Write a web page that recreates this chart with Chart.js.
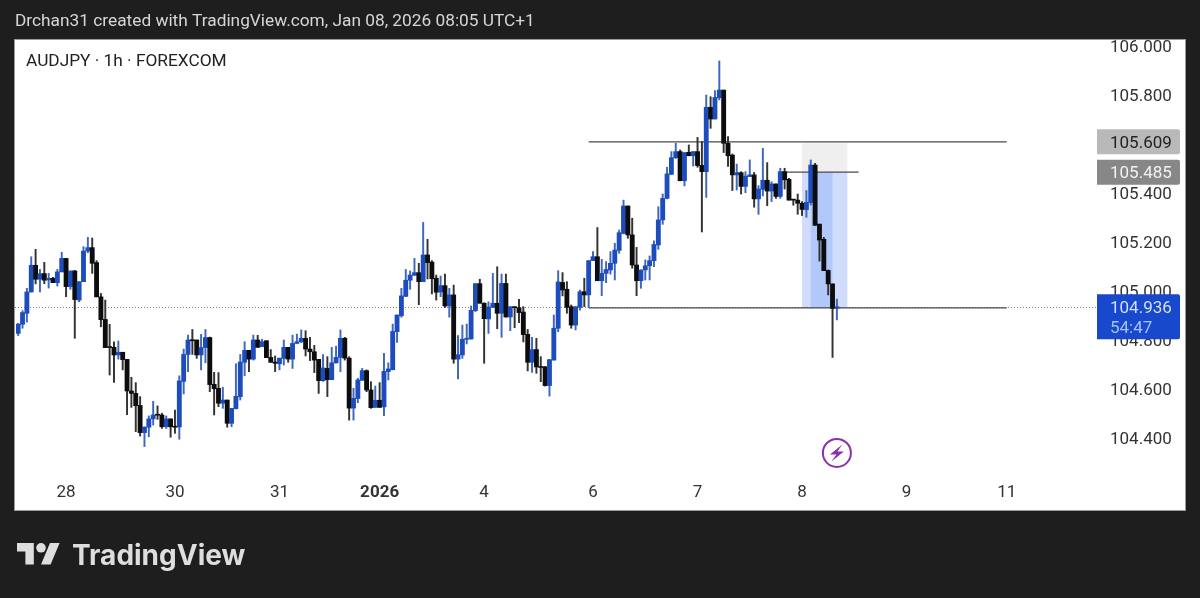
<!DOCTYPE html>
<html>
<head>
<meta charset="utf-8">
<title>AUDJPY 1h</title>
<script src="https://cdn.jsdelivr.net/npm/chart.js@4"></script>
<style>
  html, body { margin: 0; padding: 0; background: #1e1e1e; }
  canvas { display: block; }
</style>
</head>
<body>
<canvas id="graph" width="1200" height="598"></canvas>
<script>
const openPrices = [
  104.827,104.864,104.909,104.996,105.105,105.048,105.071,105.045,105.052,105.034,
  105.078,105.133,105.018,105.082,104.963,105.038,105.163,105.177,105.116,104.976,
  104.884,104.771,104.770,104.739,104.750,104.721,104.592,104.582,104.533,104.422,
  104.444,104.478,104.494,104.494,104.446,104.478,104.448,104.445,104.631,104.741,
  104.800,104.800,104.739,104.769,104.810,104.619,104.603,104.542,104.555,104.460,
  104.520,104.569,104.709,104.758,104.722,104.800,104.773,104.797,104.729,104.710,
  104.703,104.725,104.770,104.722,104.786,104.793,104.807,104.763,104.752,104.721,
  104.634,104.684,104.638,104.707,104.729,104.807,104.726,104.522,104.561,104.635,
  104.675,104.596,104.525,104.554,104.527,104.671,104.679,104.834,104.899,104.978,
  105.044,105.064,105.075,105.038,105.147,105.118,105.052,104.996,105.022,104.939,
  104.984,104.722,104.739,104.803,104.804,104.920,105.030,104.950,104.886,104.933,
  104.950,104.909,105.031,104.894,104.935,104.932,104.914,104.823,104.709,104.761,
  104.691,104.691,104.614,104.718,104.848,105.035,105.007,104.936,104.861,104.933,
  104.997,104.984,105.124,105.140,105.042,105.072,105.086,105.113,105.166,105.235,
  105.347,105.229,105.106,105.042,105.086,105.103,105.124,105.188,105.290,105.378,
  105.476,105.544,105.569,105.450,105.566,105.552,105.569,105.513,105.487,105.750,
  105.702,105.789,105.820,105.603,105.555,105.474,105.483,105.427,105.467,105.474,
  105.376,105.415,105.452,105.408,105.437,105.386,105.487,105.456,105.374,105.371,
  105.358,105.332,105.361,105.514,105.273,105.211,105.084,105.029,104.929
];
const closePrices = [
  104.865,104.912,104.996,105.105,105.048,105.071,105.044,105.052,105.034,105.078,
  105.133,105.018,105.082,104.965,105.038,105.163,105.177,105.113,104.976,104.883,
  104.769,104.769,104.739,104.750,104.720,104.592,104.582,104.532,104.422,104.444,
  104.478,104.494,104.493,104.446,104.478,104.446,104.444,104.633,104.741,104.800,
  104.797,104.739,104.769,104.810,104.618,104.601,104.542,104.555,104.460,104.521,
  104.570,104.710,104.758,104.722,104.800,104.770,104.793,104.728,104.709,104.705,
  104.726,104.770,104.722,104.786,104.793,104.807,104.763,104.752,104.718,104.634,
  104.686,104.638,104.707,104.729,104.807,104.726,104.522,104.562,104.637,104.675,
  104.596,104.524,104.554,104.525,104.672,104.682,104.835,104.902,104.980,105.044,
  105.065,105.075,105.038,105.147,105.116,105.050,104.995,105.022,104.939,104.984,
  104.722,104.740,104.803,104.807,104.921,105.030,104.950,104.887,104.935,104.950,
  104.909,105.031,104.894,104.936,104.932,104.912,104.822,104.709,104.761,104.690,
  104.688,104.614,104.720,104.848,105.037,105.004,104.933,104.861,104.936,104.997,
  104.984,105.124,105.140,105.042,105.072,105.088,105.113,105.167,105.238,105.347,
  105.229,105.106,105.042,105.086,105.103,105.124,105.190,105.290,105.378,105.478,
  105.544,105.569,105.450,105.565,105.552,105.569,105.512,105.487,105.750,105.702,
  105.790,105.820,105.603,105.552,105.474,105.483,105.427,105.469,105.474,105.376,
  105.416,105.452,105.408,105.437,105.386,105.487,105.454,105.371,105.371,105.358,
  105.333,105.362,105.514,105.268,105.208,105.083,105.029,104.929,104.936
];
const highPrices = [
  104.868,104.920,105.011,105.140,105.170,105.088,105.117,105.072,105.056,105.088,
  105.158,105.133,105.082,105.084,105.038,105.181,105.219,105.216,105.124,104.990,
  104.963,104.864,104.793,104.796,104.750,104.721,104.648,104.626,104.569,104.446,
  104.490,104.550,104.531,104.501,104.490,104.478,104.514,104.654,104.763,104.820,
  104.843,104.800,104.823,104.843,104.812,104.668,104.667,104.607,104.555,104.521,
  104.703,104.741,104.793,104.758,104.820,104.819,104.803,104.797,104.761,104.735,
  104.726,104.800,104.770,104.820,104.824,104.841,104.838,104.811,104.778,104.721,
  104.740,104.732,104.770,104.775,104.841,104.811,104.732,104.603,104.644,104.684,
  104.678,104.630,104.612,104.626,104.746,104.707,104.865,104.902,105.011,105.088,
  105.082,105.133,105.113,105.280,105.211,105.124,105.065,105.061,105.069,105.011,
  105.024,104.818,104.861,104.865,104.939,105.031,105.048,104.952,104.956,105.072,
  105.099,105.069,105.069,104.936,104.936,104.966,104.936,104.843,104.811,104.807,
  104.732,104.691,104.720,104.902,105.083,105.075,105.038,104.943,104.936,105.004,
  105.052,105.124,105.161,105.259,105.129,105.120,105.161,105.195,105.249,105.371,
  105.347,105.297,105.178,105.086,105.127,105.143,105.205,105.344,105.396,105.505,
  105.569,105.603,105.576,105.565,105.596,105.569,105.627,105.610,105.800,105.793,
  105.818,105.939,105.820,105.630,105.559,105.518,105.487,105.487,105.535,105.484,
  105.430,105.582,105.524,105.446,105.437,105.501,105.501,105.460,105.374,105.396,
  105.365,105.410,105.535,105.521,105.273,105.219,105.086,105.029,104.967
];
const lowPrices = [
  104.818,104.848,104.873,104.996,105.029,104.996,105.030,105.012,105.034,105.020,
  105.078,104.977,105.007,104.807,104.956,105.038,105.156,105.072,104.976,104.854,
  104.769,104.657,104.627,104.722,104.678,104.495,104.525,104.426,104.408,104.365,
  104.405,104.453,104.476,104.439,104.439,104.403,104.419,104.395,104.580,104.671,
  104.741,104.725,104.678,104.707,104.589,104.494,104.528,104.521,104.444,104.446,
  104.518,104.555,104.654,104.671,104.718,104.770,104.773,104.728,104.709,104.671,
  104.678,104.698,104.709,104.684,104.786,104.789,104.735,104.716,104.667,104.582,
  104.631,104.569,104.638,104.705,104.671,104.718,104.473,104.473,104.544,104.637,
  104.589,104.521,104.525,104.525,104.491,104.637,104.678,104.790,104.893,104.977,
  105.007,105.064,104.944,105.038,105.049,104.988,104.963,104.977,104.933,104.893,
  104.705,104.641,104.725,104.784,104.804,104.916,104.950,104.705,104.827,104.933,
  104.846,104.811,104.893,104.838,104.850,104.871,104.792,104.674,104.668,104.664,
  104.630,104.612,104.571,104.718,104.834,104.980,104.909,104.848,104.841,104.922,
  104.936,104.932,105.124,105.042,104.981,105.034,105.069,105.045,105.154,105.233,
  105.215,105.093,104.981,105.011,105.045,105.045,105.099,105.170,105.272,105.376,
  105.476,105.541,105.450,105.429,105.552,105.510,105.505,105.241,105.382,105.664,
  105.702,105.780,105.565,105.508,105.410,105.412,105.396,105.401,105.467,105.342,
  105.313,105.388,105.348,105.365,105.378,105.378,105.416,105.371,105.350,105.313,
  105.308,105.301,105.351,105.268,105.122,105.083,104.984,104.729,104.882
];

const dayLabels = ['28', '30', '31', '2026', '4', '6', '7', '8', '9', '11'];
const dayIndexes = [11, 36, 60, 83, 107, 132, 156, 180, 204, 227];
const slotCount = 248;
const priceTicks = [104.4, 104.6, 104.8, 105.0, 105.2, 105.4, 105.6, 105.8, 106.0];

// horizontal levels drawn on the chart
const levelPrices = [105.609, 104.931, 105.485];
const levelStarts = [131, 131, 175];
const levelEnds = [227, 227, 193];

// position tool zones, in candle slots and prices
const zoneStarts = [180, 180, 182];
const zoneEnds = [190.4, 190.4, 187];
const zoneTops = [105.603, 105.485, 105.485];
const zoneBottoms = [105.485, 104.931, 104.931];

const lastPrice = 104.936;
const countdown = '54:47';

const labels = [];
for (let i = 0; i < slotCount; i++) labels.push('');
dayIndexes.forEach((idx, i) => { labels[idx] = dayLabels[i]; });

const bodies = openPrices.map((o, i) => [o, closePrices[i]]);
const wicks = lowPrices.map((l, i) => [l, highPrices[i]]);
const bodyColors = openPrices.map((o, i) => closePrices[i] >= o ? '#1d4dbd' : '#0d0d0d');
const wickColors = openPrices.map((o, i) => closePrices[i] >= o ? '#3f68bc' : '#333333');

function levelData(k) {
  const row = [];
  for (let i = 0; i < slotCount; i++) {
    row.push(i === levelStarts[k] || i === levelEnds[k] ? levelPrices[k] : null);
  }
  return row;
}

const levelSets = levelPrices.map((p, k) => ({
  type: 'line',
  data: levelData(k),
  borderColor: '#4a4a4a',
  borderWidth: 1.2,
  pointRadius: 0,
  spanGaps: true,
  order: 3
}));

const zoneColors = ['#efefef', '#cfdcfb', '#b3c8fa'];

const panelPlugin = {
  id: 'panel',
  beforeDraw(chart) {
    const c = chart.ctx;
    c.save();
    c.fillStyle = '#1e1e1e';
    c.fillRect(0, 0, chart.width, chart.height);
    c.fillStyle = '#ffffff';
    c.fillRect(15, 40, 1170, 470);
    c.strokeStyle = '#9a9a9a';
    c.lineWidth = 1;
    c.strokeRect(14.5, 39.5, 1171, 471);

    c.fillStyle = '#d6d6d6';
    c.font = '17.3px Roboto';
    c.textBaseline = 'middle';
    c.fillText('Drchan31 created with TradingView.com, Jan 08, 2026 08:05 UTC+1', 15, 22);

    // logo
    c.translate(17, 538.2);
    c.scale(1.2, 1.2);
    c.fillStyle = '#dedede';
    c.fill(new Path2D('M14 22H7V11H0V4h14v18zM28 22h-8l7.5-18h8L28 22z'));
    c.beginPath();
    c.arc(20, 8, 4, 0, Math.PI * 2);
    c.fill();
    c.restore();

    c.save();
    c.fillStyle = '#dedede';
    c.font = '700 28px Inter';
    c.textBaseline = 'alphabetic';
    c.fillText('TradingView', 72, 565);
    c.restore();
  },
  beforeDatasetsDraw(chart) {
    const c = chart.ctx, x = chart.scales.x, y = chart.scales.y;
    c.save();
    zoneStarts.forEach((s, i) => {
      const left = x.getPixelForValue(s), right = x.getPixelForValue(zoneEnds[i]);
      const top = y.getPixelForValue(zoneTops[i]), bottom = y.getPixelForValue(zoneBottoms[i]);
      c.fillStyle = zoneColors[i];
      c.fillRect(left, top, right - left, bottom - top);
    });
    // last price line
    const py = Math.round(y.getPixelForValue(lastPrice)) + 0.5;
    c.strokeStyle = '#777';
    c.lineWidth = 1;
    c.setLineDash([1, 2]);
    c.beginPath();
    c.moveTo(15, py);
    c.lineTo(1097, py);
    c.stroke();
    c.restore();
  },
  afterDraw(chart) {
    const c = chart.ctx, x = chart.scales.x, y = chart.scales.y;
    c.save();
    c.fillStyle = '#222';
    c.font = '17.3px Roboto';
    c.textBaseline = 'middle';
    c.fillText('AUDJPY · 1h · FOREXCOM', 26, 62);

    // price tags
    function tag(price, fill, color) {
      const py = y.getPixelForValue(price);
      c.fillStyle = fill;
      c.beginPath();
      c.roundRect(1097, py - 12.5, 83, 25, [0, 2, 2, 0]);
      c.fill();
      c.fillStyle = color;
      c.font = '17px Roboto';
      c.textAlign = 'left';
      c.fillText(price.toFixed(3), 1110, py + 2);
    }
    tag(levelPrices[0], '#b9b9b9', '#222');
    tag(levelPrices[2], '#878787', '#f2f2f2');

    const ly = y.getPixelForValue(lastPrice);
    c.fillStyle = '#1848cc';
    c.beginPath();
    c.roundRect(1097, ly - 12.5, 83, 45, [0, 2, 2, 0]);
    c.fill();
    c.fillStyle = '#d3dfff';
    c.font = '17px Roboto';
    c.fillText(lastPrice.toFixed(3), 1110, ly + 2);
    c.fillStyle = '#a9c1ff';
    c.font = '17px Roboto';
    c.fillText(countdown, 1110, ly + 22);

    // lightning badge under the last candles
    const bx = x.getPixelForValue(188), by = y.getPixelForValue(104.339);
    c.strokeStyle = '#8a2fb2';
    c.lineWidth = 2;
    c.beginPath();
    c.arc(bx, by, 14, 0, Math.PI * 2);
    c.stroke();
    c.fillStyle = '#8a2fb2';
    c.beginPath();
    c.moveTo(bx + 5.5, by - 8.5);
    c.lineTo(bx - 7, by + 1.5);
    c.lineTo(bx - 0.5, by + 1.5);
    c.lineTo(bx - 5.5, by + 8.5);
    c.lineTo(bx + 7, by - 1.5);
    c.lineTo(bx + 0.5, by - 1.5);
    c.closePath();
    c.fill();
    c.restore();
  }
};

var ctx = document.getElementById('graph').getContext('2d');

var myGraph = new Chart(ctx, {
  type: 'bar',
  data: {
    labels: labels,
    datasets: [
      {
        data: bodies,
        backgroundColor: bodyColors,
        barThickness: 4.2,
        minBarLength: 1,
        grouped: false,
        order: 1
      },
      {
        data: wicks,
        backgroundColor: wickColors,
        barThickness: 1.3,
        grouped: false,
        order: 2
      }
    ].concat(levelSets)
  },
  options: {
    responsive: false,
    animation: false,
    layout: { padding: { left: 16, right: 15, top: 40, bottom: 88 } },
    plugins: {
      legend: { display: false },
      title: { display: false },
      tooltip: { enabled: false }
    },
    scales: {
      x: {
        grid: { display: false, drawTicks: false },
        border: { display: false },
        afterFit(scale) { scale.height = 35; },
        ticks: {
          autoSkip: false,
          maxRotation: 0,
          padding: 8,
          color: '#333',
          font: (c) => ({
            family: 'Roboto',
            size: 17,
            weight: c.tick && c.tick.label === '2026' ? 'bold' : 'normal'
          })
        }
      },
      y: {
        position: 'right',
        min: 104.249,
        max: 106.0245,
        grid: { display: false, drawBorder: false },
        border: { display: false },
        afterFit(scale) {
          scale.width = 89;
          scale.paddingTop = 0;
          scale.paddingBottom = 0;
        },
        afterBuildTicks(scale) { scale.ticks = priceTicks.map((v) => ({ value: v })); },
        ticks: {
          padding: 6,
          labelOffset: 2,
          color: '#333',
          font: { family: 'Roboto', size: 17 },
          callback: (v) => Number(v).toFixed(3)
        }
      }
    }
  },
  plugins: [panelPlugin]
});
</script>
</body>
</html>
